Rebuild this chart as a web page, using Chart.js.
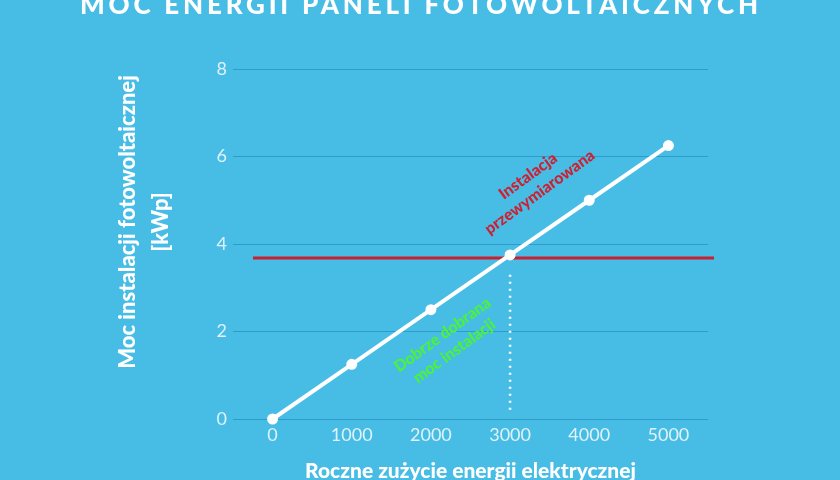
<!DOCTYPE html>
<html lang="pl">
<head>
<meta charset="utf-8">
<script src="https://cdn.jsdelivr.net/npm/chart.js@4.4.1/dist/chart.umd.min.js"></script>
<style>
    html, body { margin: 0; padding: 0; background: #47bde6; }
    #wrap { width: 840px; height: 480px; position: relative; overflow: hidden; }
</style>
</head>
<body>
<div id="wrap"><canvas id="pvChart"></canvas></div>
<script>
const usageLabels = ['0', '1000', '2000', '3000', '4000', '5000'];
const pvPower = [0, 1.25, 2.5, 3.75, 5, 6.25];
const yTicks = [0, 2, 4, 6, 8];
const oversizeLevel = 3.68;   // red line, kWp
const matchIndex = 3;         // 3000 kWh
const mainTitle = 'MOC ENERGII PANELI FOTOWOLTAICZNYCH';
const yTitle = ['Moc instalacji fotowoltaicznej', '[kWp]'];
const xTitle = 'Roczne zużycie energii elektrycznej';
const redNote = ['Instalacja', 'przewymiarowana'];
const greenNote = ['Dobrze dobrana', 'moc instalacji'];

const FONT = 'Lato, "Open Sans", sans-serif';

function rotatedLines(ctx, lines, x, y, angle, lineGap) {
    ctx.save();
    ctx.translate(x, y);
    ctx.rotate(angle);
    const start = -(lines.length - 1) * lineGap / 2;
    lines.forEach((t, i) => ctx.fillText(t, 0, start + i * lineGap));
    ctx.restore();
}

// red limit line + dotted marker under the white line
const guidesPlugin = {
    id: 'guides',
    beforeDatasetsDraw(chart) {
        const { ctx, chartArea, scales: { x, y } } = chart;
        const ry = y.getPixelForValue(oversizeLevel);
        ctx.save();
        ctx.strokeStyle = '#c9202f';
        ctx.lineWidth = 3;
        ctx.beginPath();
        ctx.moveTo(chartArea.left + 20, ry);
        ctx.lineTo(chartArea.right + 6, ry);
        ctx.stroke();

        const mx = x.getPixelForValue(matchIndex);
        ctx.strokeStyle = '#ffffff';
        ctx.lineWidth = 2.5;
        ctx.setLineDash([2, 5]);
        ctx.beginPath();
        ctx.moveTo(mx, y.getPixelForValue(3.3));
        ctx.lineTo(mx, y.getPixelForValue(0.2));
        ctx.stroke();
        ctx.restore();
    }
};

// texts that sit outside the normal chart layout
const textPlugin = {
    id: 'texts',
    afterDraw(chart) {
        const { ctx, scales: { x, y } } = chart;
        ctx.save();
        ctx.fillStyle = '#ffffff';
        ctx.textBaseline = 'alphabetic';
        ctx.textAlign = 'left';
        ctx.font = '900 26px ' + FONT;
        ctx.letterSpacing = '0px';
        const w = ctx.measureText(mainTitle).width;
        const spacing = (678 - w) / (mainTitle.length - 1);
        ctx.letterSpacing = spacing + 'px';
        ctx.fillText(mainTitle, 80, 14);
        ctx.letterSpacing = '0px';

        ctx.textAlign = 'center';
        ctx.textBaseline = 'middle';
        ctx.font = '900 22px ' + FONT;
        ctx.save();
        ctx.translate(144, 222);
        ctx.rotate(-Math.PI / 2);
        ctx.fillText(yTitle[0], 0, -16);
        ctx.fillText(yTitle[1], 0, 17);
        ctx.restore();

        const ang = -36 * Math.PI / 180;
        ctx.font = '900 16px ' + FONT;
        ctx.fillStyle = '#cf1f30';
        rotatedLines(ctx, redNote, x.getPixelForValue(3.3), y.getPixelForValue(5.37), ang, 20);
        ctx.fillStyle = '#4cf23a';
        rotatedLines(ctx, greenNote, x.getPixelForValue(2.22), y.getPixelForValue(1.74), ang, 20);
        ctx.restore();
    }
};

new Chart(document.getElementById('pvChart'), {
    type: 'line',
    data: {
        labels: usageLabels,
        datasets: [{
            data: pvPower,
            borderColor: '#ffffff',
            backgroundColor: '#ffffff',
            borderWidth: 4,
            pointRadius: 3.5,
            pointBackgroundColor: '#ffffff',
            pointBorderColor: '#ffffff',
            tension: 0,
            clip: false
        }]
    },
    options: {
        responsive: true,
        maintainAspectRatio: false,
        animation: false,
        layout: { padding: { top: 69, left: 0, right: 132, bottom: 0 } },
        plugins: { legend: { display: false }, tooltip: { enabled: false } },
        scales: {
            x: {
                type: 'category',
                offset: true,
                grid: { display: false },
                border: { display: false },
                ticks: { color: '#dff2fa', font: { family: FONT, size: 18 }, padding: -3, maxRotation: 0 },
                title: {
                    display: true,
                    text: xTitle,
                    color: '#ffffff',
                    font: { family: FONT, size: 21, weight: '900', lineHeight: 1 },
                    padding: { top: 0, bottom: -2 }
                },
                afterFit: (scale) => { scale.height = 61; }
            },
            y: {
                min: 0,
                max: 8,
                grid: { color: '#2c9dca', lineWidth: 1, drawTicks: false },
                border: { display: false },
                ticks: { color: '#dff2fa', font: { family: FONT, size: 18 }, padding: 6 },
                afterBuildTicks: (scale) => { scale.ticks = yTicks.map(v => ({ value: v })); },
                afterFit: (scale) => { scale.width = 233; }
            }
        }
    },
    plugins: [guidesPlugin, textPlugin]
});
</script>
</body>
</html>
